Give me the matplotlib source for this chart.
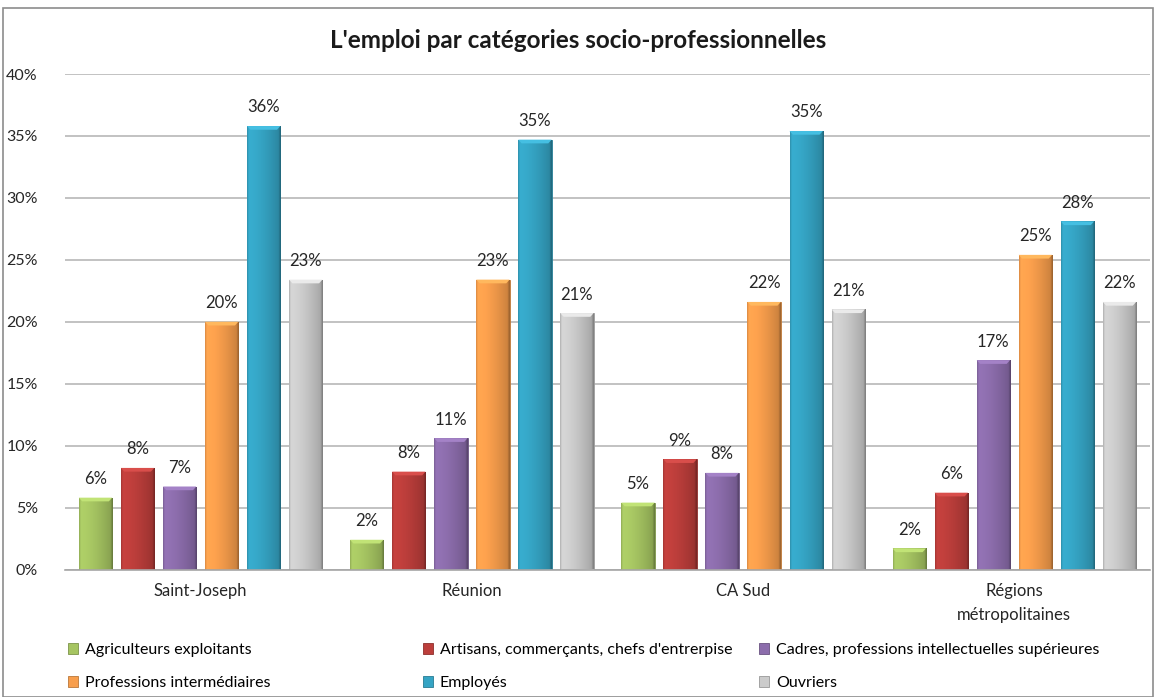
import numpy as np
import matplotlib as mpl
mpl.use("Agg")
import matplotlib.pyplot as plt
from matplotlib.colors import to_rgb
from matplotlib.patches import Rectangle

plt.rcParams["font.family"] = ["Lato", "DejaVu Sans"]

territoires = ["Saint-Joseph", "Réunion", "CA Sud", "Régions\nmétropolitaines"]
categories = [
    "Agriculteurs exploitants",
    "Artisans, commerçants, chefs d'entrerpise",
    "Cadres, professions intellectuelles supérieures",
    "Professions intermédiaires",
    "Employés",
    "Ouvriers",
]
# part de l'emploi (%) par territoire, une liste par catégorie
agriculteurs = [5.8, 2.4, 5.4, 1.7]
artisans = [8.2, 7.9, 8.9, 6.2]
cadres = [6.7, 10.6, 7.8, 16.9]
intermediaires = [20.0, 23.4, 21.6, 25.4]
employes = [35.8, 34.7, 35.4, 28.1]
ouvriers = [23.4, 20.7, 21.0, 21.6]
series = [agriculteurs, artisans, cadres, intermediaires, employes, ouvriers]
colors = ["#A6C562", "#BC3E3B", "#8C6DAC", "#F89E4C", "#35A4C4", "#CBCBCB"]

yticks = [0, 5, 10, 15, 20, 25, 30, 35, 40]

W, H = 1157, 697
fig = plt.figure(figsize=(W / 100, H / 100), dpi=100)
fig.patches.append(Rectangle((3 / W, 0), 1150 / W, (H - 8) / H, transform=fig.transFigure,
                             fill=False, edgecolor="#8C8C8C", linewidth=1.2))
ax = fig.add_axes([65 / W, (H - 569.5) / H, 1085 / W, 495.5 / H])

x = np.arange(len(territoires))
step, width = 0.155, 0.123
offsets = (np.arange(len(series)) - (len(series) - 1) / 2) * step


def shade(bar, color):
    # bevel-like horizontal gradient clipped to the bar
    base = np.array(to_rgb(color))
    t = np.linspace(0, 1, 64)
    prof = 1.06 - 0.26 * t ** 1.6
    prof[:4] = np.linspace(0.88, 1.04, 4)
    prof[-4:] = np.linspace(0.75, 0.62, 4)
    img = np.clip(base[None, :] * prof[:, None], 0, 1)[None, :, :]
    x0, y0 = bar.get_x(), bar.get_y()
    h = bar.get_height()
    im = ax.imshow(img, extent=(x0, x0 + bar.get_width(), y0, y0 + h),
                   aspect="auto", zorder=3, interpolation="bilinear")
    im.set_clip_path(bar)
    cap = min(0.3, h * 0.3)
    top = np.clip(base * 1.1 + 0.04, 0, 1)
    ax.fill([x0 + width * 0.1, x0 + width * 0.9, x0 + width, x0],
            [y0 + h - cap, y0 + h - cap, y0 + h, y0 + h],
            color=top, zorder=4, linewidth=0)


for vals, off, col, lab in zip(series, offsets, colors, categories):
    bars = ax.bar(x + off, vals, width, color=col, label=lab, zorder=2,
                  edgecolor=np.clip(np.array(to_rgb(col)) * 0.75, 0, 1), linewidth=0.6)
    for b, v in zip(bars, vals):
        shade(b, col)
        ax.text(b.get_x() + b.get_width() / 2, v + 0.85, f"{v:.0f}%", ha="center",
                va="bottom", fontsize=12, color="#262626", zorder=5)

ax.set_xlim(-0.5, len(territoires) - 0.5)
ax.set_ylim(0, 40)
ax.set_yticks(yticks)
ax.set_yticklabels([f"{t}%" for t in yticks], fontsize=11.5, color="#262626")
ax.set_xticks(x)
ax.set_xticklabels(territoires, fontsize=12, color="#262626", linespacing=1.65)
ax.tick_params(axis="both", length=0)
ax.tick_params(axis="y", pad=19.5)
ax.tick_params(axis="x", pad=9.5)
ax.yaxis.grid(True, color="#BDBDBD", linewidth=1.3, zorder=0)
ax.set_axisbelow(True)
for s in ["top", "right", "left"]:
    ax.spines[s].set_visible(False)
ax.spines["bottom"].set_color("#A6A6A6")
ax.spines["bottom"].set_linewidth(1.2)

fig.text(578 / W, 1 - 40 / H, "L'emploi par catégories socio-professionnelles",
         ha="center", va="center", fontsize=17.5, fontweight="bold", color="#1A1A1A")

# legend: three columns of two entries, placed by hand
handles, labels = ax.get_legend_handles_labels()
col_x = [68, 423, 759]
for i, cx in enumerate(col_x):
    idx = [i, i + 3]
    fig.legend([handles[j] for j in idx], [labels[j] for j in idx],
               loc="upper left", bbox_to_anchor=(cx / W, 1 - 643 / H), frameon=False,
               fontsize=11.5, handlelength=0.65, handleheight=0.65, handletextpad=0.4,
               labelspacing=1.2, borderaxespad=0, borderpad=0)

fig.savefig("out.png", dpi=100, facecolor="white")
